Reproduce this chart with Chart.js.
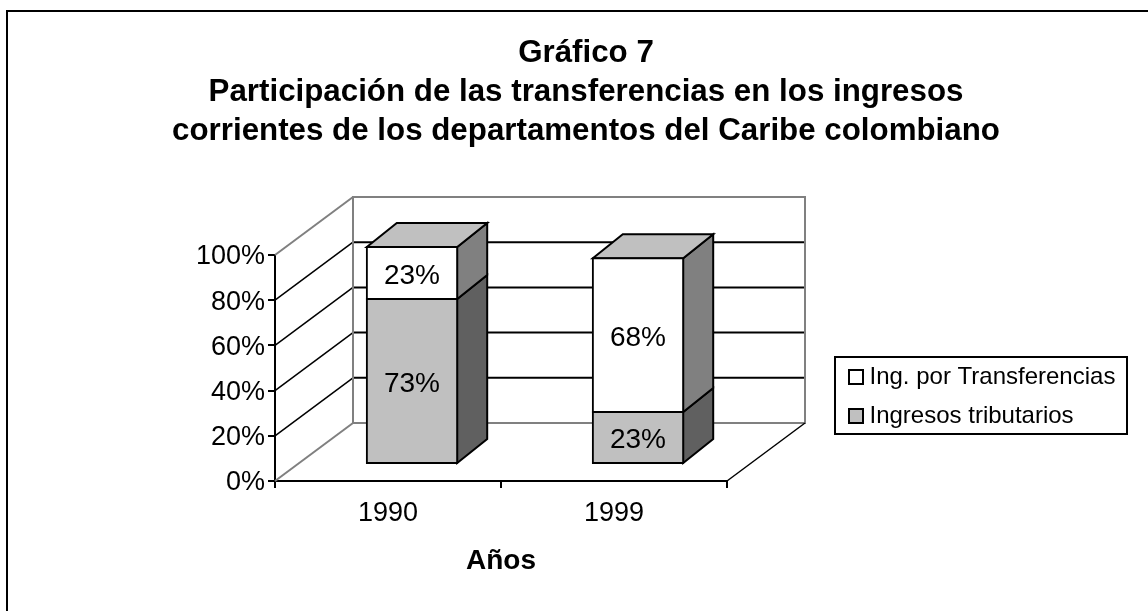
<!DOCTYPE html>
<html><head><meta charset="utf-8">
<style>html,body{margin:0;padding:0;background:#fff}canvas{display:block}</style>
<script src="https://cdn.jsdelivr.net/npm/chart.js@4"></script></head>
<body><canvas id="c" width="1148" height="611"></canvas>
<script>
const categories = ['1990', '1999'];
const ingresosTributarios = [73, 23];
const ingTransferencias = [23, 68];
const titleLines = ['Gráfico 7', 'Participación de las transferencias en los ingresos', 'corrientes de los departamentos del Caribe colombiano'];
const xTitle = 'Años';
const seriesNames = ['Ingresos tributarios', 'Ing. por Transferencias'];

const FONT = '"Liberation Sans", Arial, sans-serif';
const WALL = {dx: 78, dy: -58};
const BAROFF = {dx: 24, dy: -17};
const BARD = {dx: 30, dy: -24};
const sideColors = ['#606060', '#808080'];
const topColor = '#C0C0C0';

const plugin3d = {
  id: 'plugin3d',
  beforeDraw(chart) {
    const c = chart.ctx;
    c.save(); c.fillStyle = '#fff'; c.fillRect(0, 0, chart.width, chart.height);
    c.strokeStyle = '#000'; c.lineWidth = 2;
    c.beginPath(); c.moveTo(7, chart.height); c.lineTo(7, 11); c.lineTo(chart.width, 11); c.stroke();
    c.restore();
  },
  afterLayout(chart) {
    const l = chart.legend; const w = l.width, h = l.height;
    l.left = 839.5; l.right = l.left + w; l.top = 350; l.bottom = l.top + h;
  },
  beforeDatasetsDraw(chart) {
    const c = chart.ctx, y = chart.scales.y, a = chart.chartArea;
    c.save();
    const line = (x1, y1, x2, y2, col, w) => { c.strokeStyle = col; c.lineWidth = w; c.beginPath(); c.moveTo(x1, y1); c.lineTo(x2, y2); c.stroke(); };
    y.ticks.forEach(t => {
      const p = y.getPixelForValue(t.value);
      const edge = t.value === 0 || t.value === 100;
      if (!edge) {
        line(a.left, p, a.left + WALL.dx, p + WALL.dy, '#000', 1.5);
        line(a.left + WALL.dx, p + WALL.dy, a.right + WALL.dx, p + WALL.dy, '#000', 2);
      }
    });
    const t100 = y.getPixelForValue(100), t0 = y.getPixelForValue(0);
    const G = '#808080';
    line(a.left, t100, a.left + WALL.dx, t100 + WALL.dy, G, 2);
    line(a.left, t0, a.left + WALL.dx, t0 + WALL.dy, G, 2);
    c.strokeStyle = G; c.lineWidth = 2;
    c.strokeRect(a.left + WALL.dx, t100 + WALL.dy, a.right - a.left, t0 - t100);
    line(a.right, t0, a.right + WALL.dx, t0 + WALL.dy, '#000', 1.5);
    c.restore();

    c.save();
    c.translate(BAROFF.dx, BAROFF.dy);
    c.strokeStyle = '#000'; c.lineWidth = 2; c.lineJoin = 'miter';
    const n = chart.data.datasets.length;
    chart.data.datasets.forEach((ds, di) => {
      chart.getDatasetMeta(di).data.forEach(bar => {
        const xl = bar.x - bar.width / 2, xr = bar.x + bar.width / 2;
        c.fillStyle = sideColors[di];
        c.beginPath();
        c.moveTo(xr, bar.base); c.lineTo(xr + BARD.dx, bar.base + BARD.dy);
        c.lineTo(xr + BARD.dx, bar.y + BARD.dy); c.lineTo(xr, bar.y); c.closePath();
        c.fill(); c.stroke();
        if (di === n - 1) {
          c.fillStyle = topColor;
          c.beginPath();
          c.moveTo(xl, bar.y); c.lineTo(xl + BARD.dx, bar.y + BARD.dy);
          c.lineTo(xr + BARD.dx, bar.y + BARD.dy); c.lineTo(xr, bar.y); c.closePath();
          c.fill(); c.stroke();
        }
      });
    });
  },
  afterDatasetsDraw(chart) {
    const c = chart.ctx;
    c.fillStyle = '#000'; c.font = '28px ' + FONT; c.textAlign = 'center'; c.textBaseline = 'middle';
    chart.data.datasets.forEach((ds, di) => {
      chart.getDatasetMeta(di).data.forEach((bar, i) => {
        c.fillText(ds.data[i] + '%', bar.x, (bar.y + bar.base) / 2 + 3);
      });
    });
    c.restore();
  },
  afterDraw(chart) {
    const c = chart.ctx;
    c.save(); c.strokeStyle = '#000'; c.lineWidth = 2;
    c.strokeRect(835, 357, 292, 77);
    c.restore();
  }
};

new Chart(document.getElementById('c'), {
  type: 'bar',
  data: {
    labels: categories,
    datasets: [
      {label: seriesNames[0], data: ingresosTributarios, backgroundColor: '#C0C0C0', borderColor: '#000', borderWidth: 2, borderSkipped: false, inflateAmount: 1},
      {label: seriesNames[1], data: ingTransferencias, backgroundColor: '#FFFFFF', borderColor: '#000', borderWidth: 2, borderSkipped: false, inflateAmount: 1}
    ]
  },
  options: {
    responsive: false, animation: false, events: [],
    layout: {padding: {left: 165, right: 141, top: 0, bottom: 0}},
    datasets: {bar: {categoryPercentage: 1, barPercentage: 0.4, clip: false}},
    plugins: {
      tooltip: {enabled: false},
      title: {display: true, text: titleLines, color: '#000',
        font: {family: FONT, size: 31.3, weight: 'bold', lineHeight: '39px'},
        padding: {top: 34, bottom: 104}},
      legend: {display: true, position: 'right', align: 'start', reverse: true, maxWidth: 280,
        labels: {color: '#000', font: {family: FONT, size: 24}, usePointStyle: true, pointStyle: 'rect',
          boxWidth: 3, boxHeight: 14, padding: 15}}
    },
    scales: {
      x: {stacked: true, offset: true,
        afterFit(s) { s.height = 130; },
        border: {display: true, color: '#000', width: 2},
        grid: {display: true, offset: true, drawOnChartArea: false, drawTicks: true, tickLength: 7, color: '#000', lineWidth: 2},
        ticks: {color: '#000', font: {family: FONT, size: 27}, padding: 9, maxRotation: 0},
        title: {display: true, text: xTitle, color: '#000', font: {family: FONT, size: 28, weight: 'bold'}, padding: {top: 0, bottom: 33}}
      },
      y: {stacked: true, min: 0, max: 100,
        afterFit(s) { s.width = 110; },
        border: {display: true, color: '#000', width: 2},
        grid: {display: true, drawOnChartArea: false, drawTicks: true, tickLength: 7, color: '#000', lineWidth: 2},
        ticks: {color: '#000', font: {family: FONT, size: 27}, stepSize: 20, padding: 3, labelOffset: 2, callback: v => v + '%'}
      }
    }
  },
  plugins: [plugin3d]
});
</script></body></html>
